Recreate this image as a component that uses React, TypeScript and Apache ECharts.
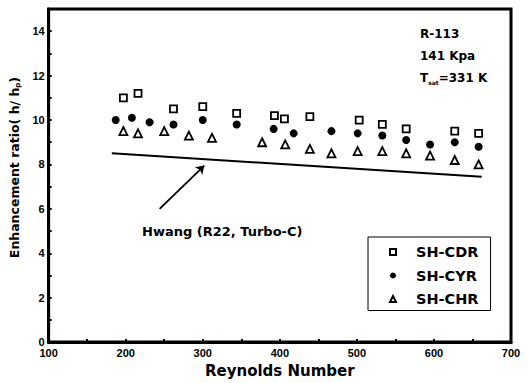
import React, { useEffect, useRef } from "react";
import * as echarts from "echarts";

// Reynolds numbers and enhancement ratios
const reCDR = [197, 216, 262, 300, 344, 393, 406, 439, 503, 533, 564, 627, 658];
const ratioCDR = [11.0, 11.2, 10.5, 10.6, 10.3, 10.2, 10.05, 10.15, 10.0, 9.8, 9.6, 9.5, 9.4];
const reCYR = [187, 208, 231, 262, 300, 344, 392, 418, 467, 501, 533, 564, 595, 627, 658];
const ratioCYR = [10.0, 10.1, 9.9, 9.8, 10.0, 9.8, 9.6, 9.4, 9.5, 9.4, 9.3, 9.1, 8.9, 9.0, 8.8];
const reCHR = [197, 216, 250, 282, 312, 377, 407, 439, 467, 501, 533, 564, 595, 627, 658];
const ratioCHR = [9.5, 9.4, 9.5, 9.3, 9.2, 9.0, 8.9, 8.7, 8.5, 8.6, 8.6, 8.5, 8.4, 8.2, 8.0];
const hwangRe = [182, 662];
const hwangRatio = [8.5, 7.45];
const arrowFrom = [244, 6.0];
const arrowTo = [302, 7.95];

const seriesNames = ["SH-CDR", "SH-CYR", "SH-CHR"];
const hwangLabel = "Hwang (R22, Turbo-C)";
const conditionLines = ["R-113", "141 Kpa"];

const zip = (xs: number[], ys: number[]) => xs.map((x, i) => [x, ys[i]]);

const BOLD = "DejaVu Sans";
const ARIAL = "Liberation Sans, Arial, sans-serif";

export default function App() {
  const ref = useRef<HTMLDivElement>(null);

  useEffect(() => {
    document.body.style.margin = "0";
    if (!ref.current) return;
    const chart = echarts.init(ref.current, undefined, { renderer: "svg" });
    const hollow = { color: "#fff", borderColor: "#000", borderWidth: 1.8, opacity: 1 };
    chart.setOption({
      animation: false,
      backgroundColor: "#fff",
      grid: {
        left: 47,
        right: 18,
        top: 9,
        bottom: 38,
        show: true,
        borderColor: "#000",
        borderWidth: 3,
        backgroundColor: "transparent",
      },
      xAxis: {
        type: "value",
        min: 100,
        max: 700,
        interval: 50,
        name: "Reynolds Number",
        nameLocation: "middle",
        nameGap: 19,
        nameTextStyle: { fontFamily: BOLD, fontWeight: "bold", fontSize: 15, color: "#000" },
        axisLine: { lineStyle: { color: "#000", width: 3 } },
        axisTick: { inside: true, length: 3, lineStyle: { color: "#000", width: 2 } },
        axisLabel: {
          margin: 5,
          fontFamily: ARIAL,
          fontWeight: "bold",
          fontSize: 11,
          color: "#000",
          formatter: (v: number) => (v % 100 === 0 ? String(v) : ""),
        },
        splitLine: { show: false },
      },
      yAxis: {
        type: "value",
        min: 0,
        max: 15,
        interval: 1,
        name: "Enhancement ratio( h/ h{sub|p})",
        nameLocation: "middle",
        nameGap: 22,
        nameTextStyle: {
          fontFamily: BOLD,
          fontWeight: "bold",
          fontSize: 12.5,
          color: "#000",
          padding: [0, 0, 0, 16],
          rich: { sub: { fontFamily: BOLD, fontWeight: "bold", fontSize: 7, color: "#000", padding: [7, 0, 0, 0] } },
        },
        axisLine: { lineStyle: { color: "#000", width: 3 } },
        axisTick: { inside: true, length: 3, lineStyle: { color: "#000", width: 2 } },
        axisLabel: {
          margin: 4,
          fontFamily: ARIAL,
          fontWeight: "bold",
          fontSize: 11,
          color: "#000",
          formatter: (v: number) => (v % 2 === 0 && v < 15 ? String(v) : ""),
        },
        splitLine: { show: false },
      },
      legend: {
        data: seriesNames,
        orient: "vertical",
        left: 368,
        top: 237,
        itemWidth: 6,
        itemHeight: 6,
        itemGap: 8.5,
        padding: [7.5, 12, 4, 21],
        borderColor: "#000",
        borderWidth: 1,
        backgroundColor: "#fff",
        textStyle: {
          fontFamily: BOLD,
          fontWeight: "bold",
          fontSize: 14.5,
          color: "#000",
          padding: [0, 0, 0, 15],
        },
      },
      series: [
        {
          name: "Hwang",
          type: "line",
          data: zip(hwangRe, hwangRatio),
          showSymbol: false,
          lineStyle: { color: "#000", width: 2 },
          silent: true,
          markLine: {
            silent: true,
            symbol: ["none", "arrow"],
            symbolSize: 8,
            label: { show: false },
            lineStyle: { color: "#000", width: 1.8, type: "solid" },
            data: [[{ coord: arrowFrom }, { coord: arrowTo }]],
          },
        },
        {
          name: seriesNames[0],
          type: "scatter",
          symbol: "rect",
          symbolSize: 7,
          itemStyle: hollow,
          data: zip(reCDR, ratioCDR),
        },
        {
          name: seriesNames[1],
          type: "scatter",
          symbol: "circle",
          symbolSize: 8,
          itemStyle: { color: "#000", opacity: 1 },
          data: zip(reCYR, ratioCYR),
        },
        {
          name: seriesNames[2],
          type: "scatter",
          symbol: "triangle",
          symbolSize: 8,
          itemStyle: hollow,
          data: zip(reCHR, ratioCHR),
        },
      ],
      graphic: [
        {
          type: "text",
          x: 142,
          y: 231,
          style: {
            text: hwangLabel,
            font: `bold 13px ${BOLD}`,
            fill: "#000",
            verticalAlign: "middle",
          },
        },
        {
          type: "text",
          x: 420,
          y: 34,
          style: { text: conditionLines[0], font: `bold 12px ${BOLD}`, fill: "#000", verticalAlign: "middle" },
        },
        {
          type: "text",
          x: 420,
          y: 56,
          style: { text: conditionLines[1], font: `bold 12px ${BOLD}`, fill: "#000", verticalAlign: "middle" },
        },
        {
          type: "text",
          x: 420,
          y: 78,
          style: {
            text: "{a|T}{s|sat}{a|=331 K}",
            verticalAlign: "middle",
            rich: {
              a: { fontFamily: BOLD, fontWeight: "bold", fontSize: 12, color: "#000" },
              s: { fontFamily: BOLD, fontWeight: "bold", fontSize: 6, color: "#000", padding: [9, 0, 0, 0] },
            },
          },
        },
      ],
    });
    return () => chart.dispose();
  }, []);

  return <div ref={ref} style={{ width: 529, height: 383 }} />;
}
